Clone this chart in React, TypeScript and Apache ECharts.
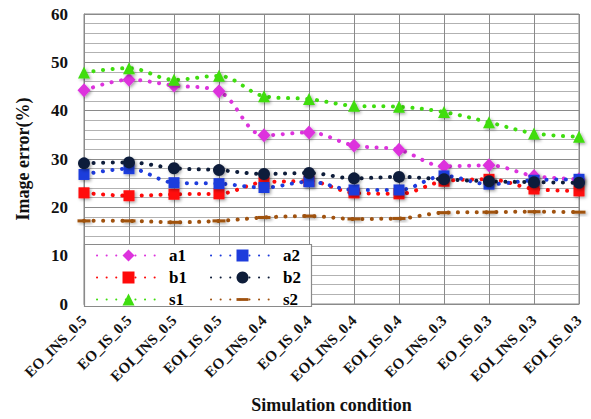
import React, { useEffect, useRef } from "react";
import * as echarts from "echarts";

const categories = [
  "EO_INS_0.5", "EO_IS_0.5", "EOI_INS_0.5", "EOI_IS_0.5",
  "EO_INS_0.4", "EO_IS_0.4", "EOI_INS_0.4", "EOI_IS_0.4",
  "EO_INS_0.3", "EO_IS_0.3", "EOI_INS_0.3", "EOI_IS_0.3",
];

const a1 = [44.2, 46.4, 45.2, 44.0, 34.9, 35.5, 32.8, 31.9, 28.5, 28.7, 26.5, 25.8];
const b1 = [23.0, 22.4, 22.7, 22.8, 25.2, 25.4, 23.0, 22.8, 25.4, 25.8, 23.8, 23.4];
const s1 = [47.9, 48.8, 46.4, 47.2, 43.0, 42.4, 41.0, 40.8, 39.7, 37.6, 35.3, 34.6];
const a2 = [26.8, 28.0, 25.1, 24.9, 24.1, 25.3, 23.6, 23.6, 26.5, 24.8, 25.6, 25.8];
const b2 = [29.1, 29.3, 28.1, 27.7, 26.9, 27.1, 26.0, 26.3, 25.8, 25.4, 25.2, 25.1];
const s2 = [17.2, 17.2, 16.9, 17.2, 17.9, 18.2, 17.6, 17.7, 18.9, 19.0, 19.1, 19.0];

const yTicks = { min: 0, max: 60, interval: 10 };

const FONT = "'Liberation Serif', 'Times New Roman', serif";

// Horizontal dash marker inside a square box so it keeps its shape in the legend too
const DASH = "path://M0,0 M12,12 M0,4.6 L12,4.6 L12,7.4 L0,7.4 Z";

type SeriesDef = {
  name: string;
  data: number[];
  color: string;
  symbol: string;
  size: number | number[];
};

const seriesDefs: SeriesDef[] = [
  { name: "a1", data: a1, color: "#DD33DD", symbol: "diamond", size: [13, 14] },
  { name: "b1", data: b1, color: "#FF0A0A", symbol: "rect", size: 11 },
  { name: "s1", data: s1, color: "#3FDD0F", symbol: "triangle", size: 12 },
  { name: "a2", data: a2, color: "#1E3CDC", symbol: "rect", size: 11 },
  { name: "b2", data: b2, color: "#0E1D3A", symbol: "circle", size: 12 },
  { name: "s2", data: s2, color: "#A0520F", symbol: DASH, size: 13 },
];

export default function App() {
  const ref = useRef<HTMLDivElement>(null);

  useEffect(() => {
    if (!ref.current) return;
    const chart = echarts.init(ref.current, null, { renderer: "svg" });

    const legendText = {
      fontFamily: FONT,
      fontWeight: "bold" as const,
      fontSize: 17,
      color: "#000",
      padding: [0, 0, 0, 4],
    };

    const legendBase = {
      orient: "vertical" as const,
      top: 247,
      padding: 0,
      itemWidth: 63,
      itemHeight: 15,
      itemGap: 5,
      textStyle: legendText,
      z: 5,
    };

    chart.setOption({
      animation: false,
      backgroundColor: "#fff",
      grid: {
        left: 84,
        right: 12,
        top: 14,
        bottom: 114,
        show: true,
        borderColor: "#8a8a8a",
        borderWidth: 1,
      },
      legend: [
        { ...legendBase, data: ["a1", "b1", "s1"], left: 96 },
        { ...legendBase, data: ["a2", "b2", "s2"], left: 210 },
      ],
      graphic: [
        {
          type: "rect",
          z: 3,
          shape: { x: 84.5, y: 244.5, width: 227, height: 62 },
          style: { fill: "#fff", stroke: "#8a8a8a", lineWidth: 1.2 },
        },
      ],
      xAxis: {
        type: "category",
        data: categories,
        boundaryGap: false,
        axisLine: { show: true, lineStyle: { color: "#8a8a8a", width: 1 } },
        axisTick: { show: false },
        splitLine: { show: true, lineStyle: { color: "#8a8a8a", width: 1 } },
        axisLabel: {
          rotate: 45,
          interval: 0,
          margin: 14,
          fontFamily: FONT,
          fontWeight: "bold",
          fontSize: 15,
          color: "#111",
        },
        name: "Simulation condition",
        nameLocation: "middle",
        nameGap: 92,
        nameTextStyle: {
          fontFamily: FONT,
          fontWeight: "bold",
          fontSize: 18,
          color: "#111",
        },
      },
      yAxis: {
        type: "value",
        min: yTicks.min,
        max: yTicks.max,
        interval: yTicks.interval,
        axisLine: { show: true, lineStyle: { color: "#8a8a8a", width: 1 } },
        axisTick: { show: false },
        splitLine: { show: true, lineStyle: { color: "#8a8a8a", width: 1 } },
        minorTick: { show: false, splitNumber: 5 },
        minorSplitLine: { show: true, lineStyle: { color: "#b2b2b2", width: 1 } },
        axisLabel: {
          margin: 16,
          fontFamily: FONT,
          fontWeight: "bold",
          fontSize: 17,
          color: "#111",
        },
        name: "Image error(%)",
        nameLocation: "middle",
        nameGap: 52,
        nameTextStyle: {
          fontFamily: FONT,
          fontWeight: "bold",
          fontSize: 18,
          color: "#111",
        },
      },
      series: seriesDefs.map((s) => ({
        name: s.name,
        type: "line",
        data: s.data,
        smooth: 0.35,
        symbol: s.symbol,
        symbolSize: s.size,
        showSymbol: true,
        itemStyle: {
          color: s.color,
          shadowColor: "rgba(0,0,0,0.35)",
          shadowBlur: 3,
          shadowOffsetX: 1.5,
          shadowOffsetY: 1.5,
        },
        lineStyle: {
          color: s.color,
          width: 4,
          type: [0.1, 9.5],
          cap: "round",
        },
        emphasis: { disabled: true },
      })),
    });

    return () => chart.dispose();
  }, []);

  return (
    <div
      ref={ref}
      style={{ position: "absolute", left: 0, top: 0, width: 591, height: 419 }}
    />
  );
}
